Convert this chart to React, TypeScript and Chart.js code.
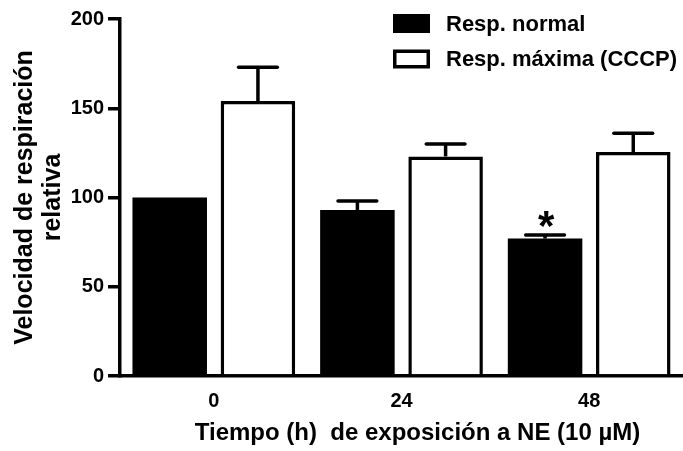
import React, { useEffect, useRef } from "react";
import { Chart, registerables } from "chart.js";

Chart.register(...registerables);

const categories = ["0", "24", "48"];
const normalValues = [100, 93, 77];
const normalErrors = [0, 5, 2];
const maxValues = [154, 123, 125.5];
const maxErrors = [19, 7, 10.5];
const seriesLabels = ["Resp. normal", "Resp. máxima (CCCP)"];
const yTitle = ["Velocidad de respiración", "relativa"];
const xTitle = "Tiempo (h)  de exposición a NE (10 µM)";
const significantMarks = ["", "", "*"];

const FONT = "'Liberation Sans', Arial, sans-serif";

const errorBarPlugin = {
  id: "errorBars",
  afterDatasetsDraw(chart: any) {
    const ctx = chart.ctx;
    const yScale = chart.scales.y;
    const errs = [normalErrors, maxErrors];
    const vals = [normalValues, maxValues];
    ctx.save();
    ctx.strokeStyle = "#000";
    ctx.lineWidth = 3.5;
    for (let i = 0; i < errs.length; i++) {
      const meta = chart.getDatasetMeta(i);
      meta.data.forEach((bar: any, j: number) => {
        const e = errs[i][j];
        if (!e) return;
        const top = yScale.getPixelForValue(vals[i][j] + e);
        const w = bar.width * 0.52;
        ctx.lineCap = "butt";
        ctx.beginPath();
        ctx.moveTo(bar.x, bar.y);
        ctx.lineTo(bar.x, top);
        ctx.stroke();
        ctx.lineCap = "round";
        ctx.beginPath();
        ctx.moveTo(bar.x - w / 2, top);
        ctx.lineTo(bar.x + w / 2, top);
        ctx.stroke();
      });
    }
    const meta0 = chart.getDatasetMeta(0);
    ctx.fillStyle = "#000";
    ctx.font = `bold 42px ${FONT}`;
    ctx.textAlign = "center";
    ctx.textBaseline = "alphabetic";
    meta0.data.forEach((bar: any, j: number) => {
      const m = significantMarks[j];
      if (!m) return;
      const top = yScale.getPixelForValue(normalValues[j] + normalErrors[j]);
      ctx.fillText(m, bar.x + 1, top + 5);
    });
    ctx.restore();
  },
};

const legendPlugin = {
  id: "customLegend",
  afterDraw(chart: any) {
    const ctx = chart.ctx;
    const boxX = 393;
    const boxW = 37;
    const boxH = 19;
    const rows = [23.5, 59];
    ctx.save();
    chart.data.datasets.forEach((ds: any, i: number) => {
      const cy = rows[i];
      if (i === 0) {
        ctx.fillStyle = "#000";
        ctx.fillRect(boxX, cy - boxH / 2, boxW, boxH);
      } else {
        ctx.fillStyle = "#fff";
        ctx.fillRect(boxX, cy - boxH / 2, boxW, boxH);
        ctx.strokeStyle = "#000";
        ctx.lineWidth = 3.5;
        ctx.strokeRect(boxX + 1.75, cy - boxH / 2 + 1.75, boxW - 3.5, boxH - 3.5);
      }
      ctx.fillStyle = "#000";
      ctx.font = `bold 22px ${FONT}`;
      ctx.textAlign = "left";
      ctx.textBaseline = "middle";
      ctx.fillText(ds.label, 446, cy + 1);
    });
    const area = chart.chartArea;
    ctx.font = `bold 24px ${FONT}`;
    ctx.textAlign = "center";
    ctx.textBaseline = "middle";
    ctx.fillText(xTitle, (area.left + area.right) / 2 + 16, 433);
    ctx.restore();
  },
};

export default function App() {
  const ref = useRef<HTMLCanvasElement | null>(null);
  useEffect(() => {
    document.body.style.margin = "0";
    if (!ref.current) return;
    const chart = new Chart(ref.current, {
      type: "bar",
      data: {
        labels: categories,
        datasets: [
          {
            label: seriesLabels[0],
            data: normalValues,
            backgroundColor: "#000",
            borderColor: "#000",
            borderWidth: 0,
            categoryPercentage: 0.94,
            barPercentage: 0.845,
          },
          {
            label: seriesLabels[1],
            data: maxValues,
            backgroundColor: "#fff",
            borderColor: "#000",
            borderWidth: 3.5,
            categoryPercentage: 0.94,
            barPercentage: 0.845,
          },
        ],
      },
      options: {
        responsive: false,
        animation: false,
        devicePixelRatio: 1,
        layout: { padding: { top: 19, right: 0, left: 0, bottom: 0 } },
        plugins: {
          legend: { display: false },
          tooltip: { enabled: false },
        },
        scales: {
          x: {
            grid: { display: false },
            border: { display: true, color: "#000", width: 3.5 },
            ticks: {
              color: "#000",
              font: { family: FONT, size: 20, weight: "bold" },
              padding: 5,
            },
            afterFit(scale: any) {
              scale.height = 75;
            },
          },
          y: {
            min: 0,
            max: 200,
            ticks: {
              stepSize: 50,
              color: "#000",
              font: { family: FONT, size: 20, weight: "bold" },
              padding: 4,
            },
            grid: {
              drawOnChartArea: false,
              tickLength: 12,
              color: "#000",
              lineWidth: 3.5,
            },
            border: { display: true, color: "#000", width: 3.5 },
            title: {
              display: true,
              text: yTitle,
              color: "#000",
              font: { family: FONT, size: 25, weight: "bold", lineHeight: 1.12 },
              padding: { top: 11, bottom: 0 },
            },
            afterFit(scale: any) {
              scale.width = 120;
            },
          },
        },
      },
      plugins: [errorBarPlugin, legendPlugin],
    } as any);
    return () => chart.destroy();
  }, []);
  return (
    <div style={{ width: 683, height: 451, background: "#fff" }}>
      <canvas ref={ref} width={683} height={451} />
    </div>
  );
}
